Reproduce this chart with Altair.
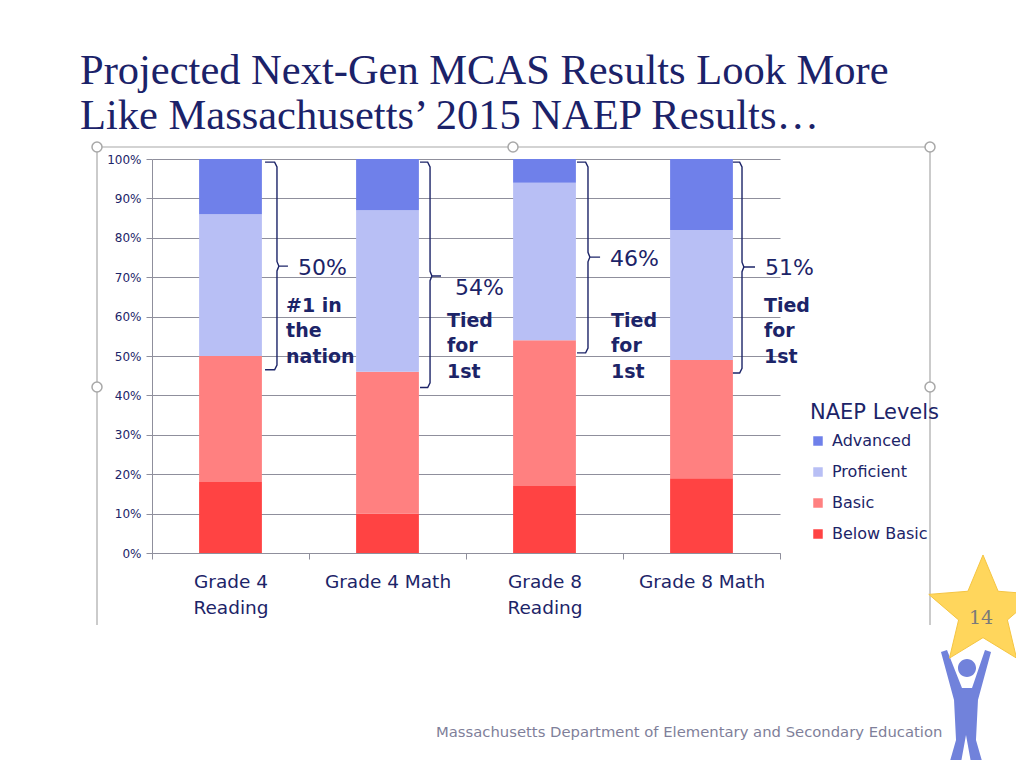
import altair as alt
import pandas as pd

# ---------------- data ----------------
categories = ["Grade 4\nReading", "Grade 4 Math", "Grade 8\nReading", "Grade 8 Math"]
levels = ["Advanced", "Proficient", "Basic", "Below Basic"]
below_basic = [18, 10, 17, 19]
basic = [32, 36, 37, 30]
proficient = [36, 41, 40, 33]
advanced = [14, 13, 6, 18]
level_colors = ["#6F80EA", "#B8BFF5", "#FF8080", "#FF4343"]

# ---------------- annotations ----------------
callout_pct = ["50%", "54%", "46%", "51%"]
callout_note = ["#1 in\nthe\nnation", "Tied\nfor\n1st", "Tied\nfor\n1st", "Tied\nfor\n1st"]
bracket_top = [99.2, 99.2, 99.2, 99.2]
bracket_bottom = [46.5, 42.0, 50.8, 45.7]
bracket_mid = [72.8, 70.3, 75.1, 72.6]
# offsets within each category slot (slot index + offset)
bracket_line = [0.796, 0.771, 0.777, 0.758]
bracket_tip = [0.866, 0.841, 0.854, 0.841]
bracket_hook = [0.720, 0.707, 0.707, 0.700]
pct_pos = [(0.930, 72.3), (0.930, 67.3), (0.917, 74.6), (0.904, 72.3)]
note_pos = [(0.854, 62.7), (0.879, 58.9), (0.924, 58.9), (0.898, 62.7)]

title_lines = ["Projected Next-Gen MCAS Results Look More",
               "Like Massachusetts\u2019 2015 NAEP Results\u2026"]
footer = "Massachusetts Department of Elementary and Secondary Education"
page_no = "14"

navy = "#1C2468"
gray = "#8F8F9C"
frame_gray = "#A8A8A8"
sans = "DejaVu Sans"

W, H = 628, 394

# ---------------- tables ----------------
rows = []
for i, cat in enumerate(categories):
    for lvl, vals, o in [("Below Basic", below_basic, 0), ("Basic", basic, 1),
                         ("Proficient", proficient, 2), ("Advanced", advanced, 3)]:
        rows.append({"category": cat, "level": lvl, "pct": vals[i], "stack_order": o})
df = pd.DataFrame(rows)

br_rows = []
for i in range(len(categories)):
    v = i + bracket_line[i]
    t = i + bracket_tip[i]
    h = i + bracket_hook[i]
    top, bot, mid = bracket_top[i], bracket_bottom[i], bracket_mid[i]
    pts = [(h, top), (v - 0.015, top), (v, top - 1.2), (v, mid + 1.2), (v + 0.012, mid),
           (t, mid), (v + 0.012, mid), (v, mid - 1.2), (v, bot + 1.2), (v - 0.015, bot), (h, bot)]
    for k, (px, py) in enumerate(pts):
        br_rows.append({"bracket": i, "seq": k, "bx": px, "pct": py})
df_br = pd.DataFrame(br_rows)

df_pct = pd.DataFrame({"txt": callout_pct,
                       "bx": [i + p[0] for i, p in enumerate(pct_pos)],
                       "pct": [p[1] for p in pct_pos]})
df_note = pd.DataFrame({"txt": callout_note,
                        "bx": [i + p[0] for i, p in enumerate(note_pos)],
                        "pct": [p[1] for p in note_pos]})

xq = alt.X("bx:Q", scale=alt.Scale(domain=[0, len(categories)]), axis=None)

y_axis = alt.Axis(title=None, values=list(range(0, 101, 10)), tickCount=11,
                  labelExpr="datum.value + '%'", labelOverlap=False,
                  labelFont=sans, labelFontSize=12, labelColor=navy,
                  labelPadding=5, domainColor=gray, tickColor=gray,
                  tickSize=6, grid=True, gridColor=gray, gridWidth=1)
y_scale = alt.Scale(domain=[0, 100])


def yenc():
    return alt.Y("pct:Q", scale=y_scale, axis=y_axis)


# ---------------- bars ----------------
bars = alt.Chart(df).mark_bar(width=alt.RelativeBandSize(0.4)).encode(
    x=alt.X("category:N", sort=categories,
            scale=alt.Scale(paddingInner=0, paddingOuter=0),
            axis=alt.Axis(title=None, labelAngle=0,
                          labelExpr="split(datum.label, '\\n')",
                          labelFont=sans, labelFontSize=18.5, labelColor=navy,
                          labelPadding=13, labelLineHeight=26, labelBaseline="top",
                          domainColor=gray, tickColor=gray, tickSize=6,
                          tickBand="extent", grid=False)),
    y=alt.Y("pct:Q", stack="zero", scale=y_scale, axis=y_axis),
    color=alt.Color("level:N", scale=alt.Scale(domain=levels, range=level_colors),
                    legend=alt.Legend(orient="none", legendX=658, legendY=243,
                                      title="NAEP Levels", titleFont=sans,
                                      titleFontSize=21, titleFontWeight="normal",
                                      titleColor=navy, titlePadding=10,
                                      labelFont=sans, labelFontSize=16,
                                      labelColor=navy, labelOffset=6,
                                      symbolType="square", symbolSize=90,
                                      symbolStrokeWidth=0, rowPadding=15)),
    order=alt.Order("stack_order:Q", sort="ascending"),
)

brackets = alt.Chart(df_br).mark_line(color=navy, strokeWidth=1.4).encode(
    x=xq, y=yenc(), detail="bracket:N", order="seq:Q")

pct_text = alt.Chart(df_pct).mark_text(
    align="left", baseline="middle", font=sans, fontSize=22, color=navy
).encode(x=xq, y=yenc(), text="txt:N")

note_text = alt.Chart(df_note).mark_text(
    align="left", baseline="middle", font=sans, fontSize=19, fontWeight="bold",
    color=navy, lineBreak="\n", lineHeight=25.5
).encode(x=xq, y=yenc(), text="txt:N")

# ---------------- decorations (slide frame, footer, star) ----------------
deco = []
frame_segments = [(-55, -12, -55, 466), (-55, -12, 778, -12), (778, -12, 778, 466)]
for x1, y1, x2, y2 in frame_segments:
    deco.append(alt.Chart(df.head(1)).mark_rule(color=frame_gray, strokeWidth=1.2).encode(
        x=alt.value(x1), y=alt.value(y1), x2=alt.value(x2), y2=alt.value(y2)))
for hx, hy in [(-55, -12), (361, -12), (778, -12), (-55, 228), (778, 228)]:
    deco.append(alt.Chart(df.head(1)).mark_point(
        shape="circle", size=100, filled=True, fill="white", stroke=frame_gray,
        strokeWidth=1.5, opacity=1).encode(x=alt.value(hx), y=alt.value(hy)))

footer_text = alt.Chart(df.head(1)).mark_text(
    align="left", baseline="middle", font=sans, fontSize=14.8, color="#7F7F9A"
).encode(x=alt.value(284), y=alt.value(574), text=alt.value(footer))

person_path = ("M-0.424,-0.966L-0.322,-1L-0.068,-0.356L0.102,-0.356L0.322,-1L0.424,-0.966"
               "L0.203,-0.153L0.169,0.525L0.305,1L0.102,1L0,0.441L-0.102,1L-0.305,1"
               "L-0.169,0.525L-0.203,-0.153Z"
               "M-0.136,-0.695A0.153,0.153 0 1,0 0.17,-0.695A0.153,0.153 0 1,0 -0.136,-0.695Z")
person = alt.Chart(df.head(1)).mark_point(
    shape=person_path, size=13924, filled=True, fill="#7182DB", opacity=1, strokeWidth=0
).encode(x=alt.value(814), y=alt.value(550))

star_path = ("M0,-1L0.265,-0.364L0.951,-0.309L0.428,0.139L0.588,0.809L0,0.45"
             "L-0.588,0.809L-0.428,0.139L-0.951,-0.309L-0.265,-0.364Z")
star = alt.Chart(df.head(1)).mark_point(
    shape=star_path, size=13000, filled=True, fill="#FFD65C", opacity=1,
    stroke="#F5C542", strokeWidth=1
).encode(x=alt.value(831), y=alt.value(453))

page_text = alt.Chart(df.head(1)).mark_text(
    align="center", baseline="middle", font="DejaVu Serif", fontSize=19, color="#7A7A7A"
).encode(x=alt.value(829), y=alt.value(459), text=alt.value(page_no))

chart = alt.layer(
    *deco, bars, brackets, pct_text, note_text, footer_text, person, star, page_text
).resolve_scale(x="independent").properties(
    width=W, height=H,
    autosize=alt.AutoSizeParams(type="none"),
    padding={"left": 144, "top": 151, "right": 236, "bottom": 207},
    title=alt.TitleParams(text=title_lines, anchor="start", frame="group", dx=-72,
                          offset=2, font="Liberation Serif", fontSize=42.5,
                          fontWeight="normal", color="#1B2269", lineHeight=45),
    background="white",
).configure_view(stroke=None)

chart.save("out.html", embed_options={"renderer": "svg", "actions": False})
